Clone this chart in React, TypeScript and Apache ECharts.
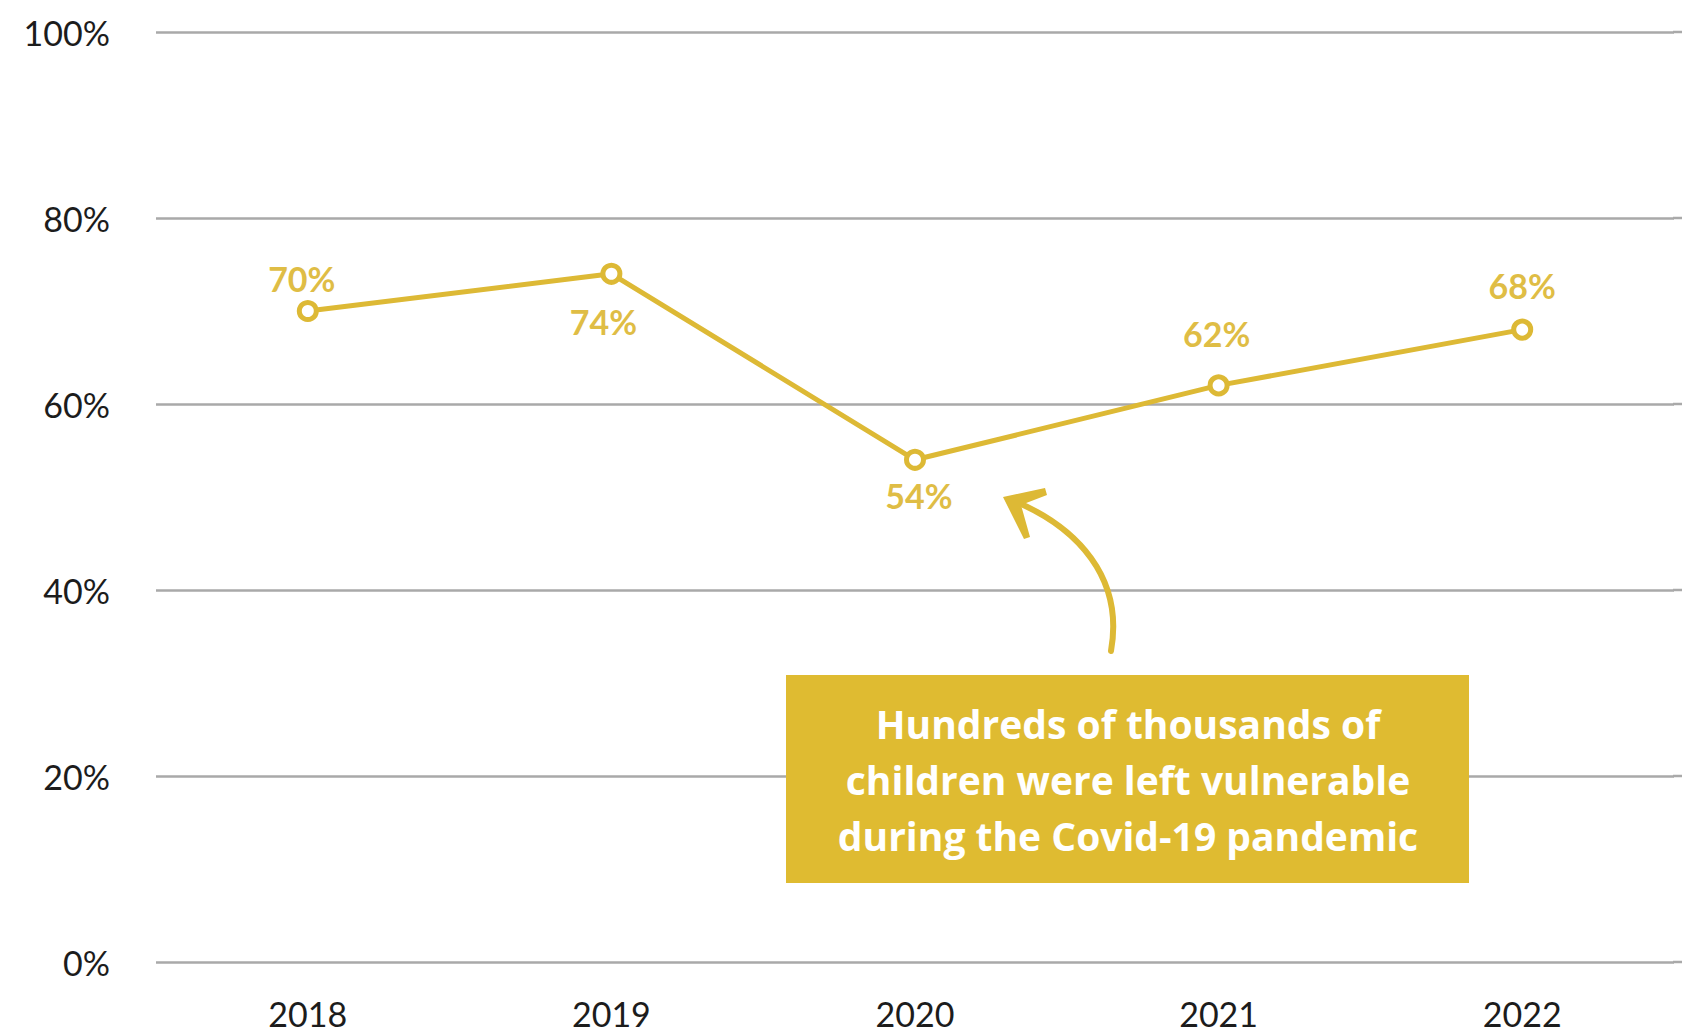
import React, { useEffect, useRef } from "react";
import * as echarts from "echarts";

const years = ["2018", "2019", "2020", "2021", "2022"];
const shares = [70, 74, 54, 62, 68];
const labelPositions = ["top", "bottom", "bottom", "top", "top"];
const labelDistances = [5, 20, 8, 24, 16];
const labelShiftX = [-6, -8, 4, -2, 0];
const yTicks = [0, 20, 40, 60, 80, 100];
const noteLines = [
  "Hundreds of thousands of",
  "children were left vulnerable",
  "during the Covid-19 pandemic",
];

const GOLD = "#DDB935";
const W = 1682;

export default function App() {
  const ref = useRef<HTMLDivElement>(null);
  useEffect(() => {
    if (!ref.current) return;
    const chart = echarts.init(ref.current, undefined, { renderer: "svg" });
    const noteText = noteLines.map((t, i) => ({
      type: "text",
      x: 1128,
      y: 723 + i * 56,
      z: 101,
      style: {
        text: t,
        fill: "#ffffff",
        font: "700 39px 'Open Sans'",
        textAlign: "center",
        textVerticalAlign: "middle",
      },
    }));
    chart.setOption({
      animation: false,
      backgroundColor: "#ffffff",
      grid: { left: 156, right: 8, top: 32, bottom: 70, containLabel: false },
      xAxis: {
        type: "category",
        data: years,
        boundaryGap: true,
        axisLine: { show: false },
        axisTick: { show: false },
        axisLabel: {
          color: "#1c1c1c",
          fontFamily: "Lato",
          fontSize: 34,
          lineHeight: 32,
          margin: 35,
        },
      },
      yAxis: {
        type: "value",
        min: 0,
        max: 100,
        interval: 20,
        axisLine: { show: false },
        axisTick: { show: false },
        axisLabel: {
          color: "#1c1c1c",
          fontFamily: "Lato",
          fontSize: 34,
          margin: 46,
          formatter: (v: number) => (yTicks.includes(v) ? v + "%" : ""),
        },
        splitLine: { lineStyle: { color: "#a9a9a9", width: 2.5 } },
      },
      series: [
        {
          type: "line",
          data: shares.map((v, i) => ({
            value: v,
            label: {
              position: labelPositions[i],
              distance: labelDistances[i],
              offset: [labelShiftX[i], 0],
            },
          })),
          symbol: "circle",
          symbolSize: 17,
          lineStyle: { color: GOLD, width: 5 },
          itemStyle: { color: "#ffffff", borderColor: GOLD, borderWidth: 5 },
          label: {
            show: true,
            formatter: (p: any) => p.value + "%",
            color: "#DFBD45",
            fontFamily: "Lato",
            fontWeight: "bold",
            fontSize: 34,
          },
          z: 3,
        },
      ],
    });
    // extend the gridlines to the right edge of the page, at the axis's own tick positions
    const gridRight = W - 8;
    const extensions = yTicks.map((v) => {
      const y = chart.convertToPixel({ yAxisIndex: 0 }, v) as number;
      return {
        type: "line",
        shape: { x1: gridRight - 1, y1: y, x2: W, y2: y },
        style: { stroke: "#a9a9a9", lineWidth: 2.5 },
        z: 0,
      };
    });
    chart.setOption({
      graphic: [
        ...extensions,
        {
          type: "bezierCurve",
          shape: {
            x1: 1111,
            y1: 651,
            cpx1: 1124,
            cpy1: 578,
            cpx2: 1078,
            cpy2: 527,
            x2: 1012,
            y2: 500,
          },
          style: { stroke: GOLD, lineWidth: 6, fill: null, lineCap: "round" },
          z: 100,
        },
        {
          type: "polygon",
          shape: {
            points: [
              [1003, 497],
              [1045, 488],
              [1047, 495],
              [1021, 505],
              [1030, 537],
              [1024, 539],
            ],
          },
          style: { fill: GOLD },
          z: 100,
        },
        {
          type: "rect",
          shape: { x: 786, y: 675, width: 683, height: 208 },
          style: { fill: "#DFBB31" },
          z: 100,
        },
        ...noteText,
      ],
    });
    return () => chart.dispose();
  }, []);
  return (
    <div
      ref={ref}
      style={{ position: "fixed", left: 0, top: 0, width: W, height: 1032 }}
    />
  );
}
